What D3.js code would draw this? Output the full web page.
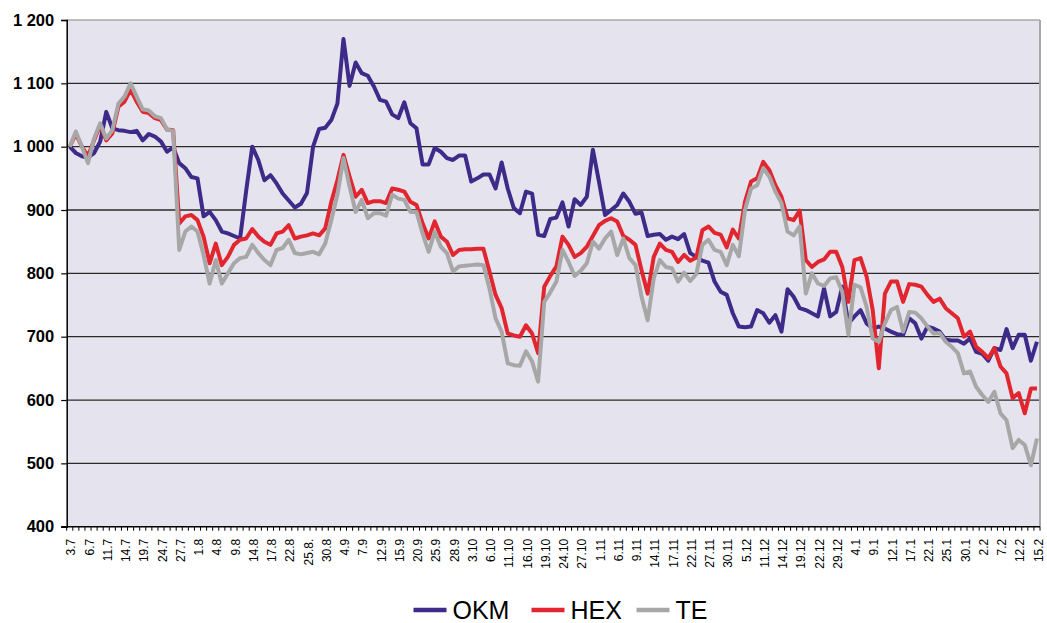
<!DOCTYPE html>
<html><head><meta charset="utf-8">
<script src="https://cdn.jsdelivr.net/npm/d3@7/dist/d3.min.js"></script>
<style>body{margin:0;background:#fff}svg{display:block}</style>
</head><body>
<svg id="c" width="1047" height="623"></svg>
<script>
const dates = [
"3.7","4.7","5.7","6.7","7.7","10.7","11.7","12.7","13.7","14.7","17.7","18.7","19.7","20.7","21.7","24.7","25.7","26.7","27.7","28.7","31.7",
"1.8","2.8","3.8","4.8","7.8","8.8","9.8","10.8","11.8","14.8","15.8","16.8","17.8","18.8","21.8","22.8","23.8","24.8","25.8.","28.8","29.8","30.8","31.8",
"1.9","4.9","5.9","6.9","7.9","8.9","11.9","12.9","13.9","14.9","15.9","18.9","19.9","20.9","21.9","22.9","25.9","26.9","27.9","28.9","29.9",
"2.10","3.10","4.10","5.10","6.10","9.10","10.10","11.10","12.10","13.10","16.10","17.10","18.10","19.10","20.10","23.10","24.10","25.10","26.10","27.10","30.10","31.10",
"1.11","2.11","3.11","6.11","7.11","8.11","9.11","10.11","13.11","14.11","15.11","16.11","17.11","20.11","21.11","22.11","23.11","24.11","27.11","28.11","29.11","30.11",
"1.12","4.12","5.12","7.12","8.12","11.12","12.12","13.12","14.12","15.12","18.12","19.12","20.12","21.12","22.12","27.12","28.12","29.12",
"2.1","3.1","4.1","5.1","8.1","9.1","10.1","11.1","12.1","15.1","16.1","17.1","18.1","19.1","22.1","23.1","24.1","25.1","26.1","29.1","30.1","31.1",
"1.2","2.2","5.2","6.2","7.2","8.2","9.2","12.2","13.2","14.2","15.2"];

const okm = [
1000,990,985,983,990,1008,1055,1029,1026,1025,1023,1025,1010,1020,1016,1008,992,999,974,966,
952,950,890,897,884,866,863,859,855,930,1000,979,947,955,942,926,915,904,910,927,
1000,1028,1030,1042,1068,1170,1096,1133,1116,1112,1095,1074,1071,1051,1045,1070,1037,1029,972,972,
998,992,982,979,986,986,945,950,956,956,934,975,934,903,895,929,926,861,859,886,
888,912,874,917,908,921,995,945,892,900,908,926,913,894,896,859,861,862,853,858,
854,862,832,826,820,817,787,771,766,737,716,715,716,742,737,722,734,708,775,763,
745,742,737,732,776,732,739,779,721,732,742,721,713,716,713,708,704,703,729,721,
697,716,713,708,695,694,694,689,697,676,673,662,682,679,712,682,703,703,662,692];

const hex = [
1000,1020,1000,985,1010,1034,1010,1021,1063,1071,1090,1071,1055,1053,1045,1042,1027,1026,879,890,
892,884,858,816,847,813,826,845,853,855,870,858,850,845,863,866,876,855,858,860,
863,860,871,913,947,987,953,921,932,911,914,914,911,934,932,929,913,908,879,855,
882,858,850,829,837,838,838,839,839,803,766,745,705,702,700,718,705,674,779,796,
811,858,845,826,832,842,859,876,883,887,882,859,853,845,805,768,826,847,837,834,
818,829,820,825,868,874,864,861,841,869,855,913,945,950,976,963,939,921,887,884,
899,821,810,818,822,834,834,810,755,821,824,795,742,650,768,787,787,755,783,782,
779,766,755,760,745,737,729,700,708,684,676,666,682,653,642,603,611,579,618,618];

const te = [
1000,1024,1000,974,1013,1037,1013,1026,1068,1079,1100,1079,1059,1057,1048,1045,1027,1025,837,866,
874,866,829,784,821,784,800,816,824,826,845,832,821,813,837,840,853,832,830,832,
834,830,847,884,924,982,937,897,916,887,895,895,891,924,918,916,897,897,863,834,
866,842,832,803,811,812,813,814,813,776,729,708,658,655,654,677,661,629,755,770,
787,837,818,796,804,816,850,839,855,866,829,855,824,813,763,726,792,821,810,808,
787,801,788,799,845,853,837,834,813,845,827,900,934,939,966,953,929,911,866,860,
874,768,800,784,780,792,794,771,703,782,778,747,697,692,721,742,747,708,739,738,
729,716,705,706,692,684,674,642,645,621,608,597,613,579,568,524,537,529,497,539];

const yTicks = [400,500,600,700,800,900,1000,1100,1200];
const labelStep = 3;
const seriesNames = ["OKM","HEX","TE"];
const seriesValues = [okm, hex, te];
const seriesColors = ["#3e2a88","#e2262f","#a7a7a7"];

const L = 66.7, R = 1040, T = 20, B = 526.7;
const svg = d3.select("#c");
const x = d3.scaleBand().domain(d3.range(dates.length)).range([L, R]).paddingInner(0).paddingOuter(0);
const y = d3.scaleLinear().domain([400, 1200]).range([B, T]);
const cx = i => x(i) + x.bandwidth() / 2;

svg.append("rect").attr("x", L).attr("y", T).attr("width", R - L).attr("height", B - T).attr("fill", "#e5e4ee");

// gridlines
svg.append("g").selectAll("line").data(yTicks.filter(v => v > 400 && v < 1200)).join("line")
  .attr("x1", L).attr("x2", R).attr("y1", d => y(d)).attr("y2", d => y(d))
  .attr("stroke", "#2a2a2a").attr("stroke-width", 1.3);
// top + right border
svg.append("line").attr("x1", L).attr("x2", R).attr("y1", y(1200)).attr("y2", y(1200)).attr("stroke", "#a8a8a8").attr("stroke-width", 1.5);
svg.append("line").attr("x1", R).attr("x2", R).attr("y1", T).attr("y2", B).attr("stroke", "#a8a8a8").attr("stroke-width", 2);

// lines
const line = d3.line().x((d, i) => cx(i)).y(d => y(d)).curve(d3.curveLinear);
seriesValues.forEach((vals, k) => {
  svg.append("path").datum(vals).attr("d", line).attr("fill", "none")
    .attr("stroke", seriesColors[k]).attr("stroke-width", 4).attr("stroke-linejoin", "round");
});

// Y axis
const fmt = d3.formatLocale({decimal: ",", thousands: " ", grouping: [3], currency: ["", ""]}).format(",d");
const yAxis = d3.axisLeft(y).tickValues(yTicks).tickSize(5.5).tickPadding(7).tickFormat(fmt);
const gy = svg.append("g").attr("transform", `translate(${L},0)`).call(yAxis);
gy.select(".domain").attr("stroke", "#000").attr("stroke-width", 1.5);
gy.selectAll(".tick line").attr("stroke", "#000").attr("stroke-width", 1.2);
gy.selectAll(".tick text").attr("font-family", "Liberation Sans, Arial, sans-serif").attr("font-weight", "bold").attr("font-size", "16.5px").attr("fill", "#000");

// X axis: tick marks at category boundaries
const bounds = d3.range(dates.length + 1).map(i => L + i * x.bandwidth());
svg.append("g").selectAll("line").data(bounds).join("line")
  .attr("x1", d => d).attr("x2", d => d).attr("y1", B).attr("y2", B + 4)
  .attr("stroke", "#000").attr("stroke-width", 1);
svg.append("line").attr("x1", L - 5.5).attr("x2", R).attr("y1", B).attr("y2", B).attr("stroke", "#000").attr("stroke-width", 1.5);

// X labels
const labIdx = d3.range(0, dates.length, labelStep);
svg.append("g").selectAll("text").data(labIdx).join("text")
  .attr("transform", i => `translate(${cx(i) + 1.5},${B + 12}) rotate(-90)`)
  .attr("text-anchor", "end").attr("dy", "0.35em")
  .attr("font-family", "Liberation Sans, Arial, sans-serif").attr("font-size", "12px").attr("fill", "#000")
  .text(i => dates[i]);

// Legend
const lg = svg.append("g");
const legX = [413.5, 531.5, 636.5];
seriesNames.forEach((n, k) => {
  lg.append("line").attr("x1", legX[k]).attr("x2", legX[k] + 33).attr("y1", 610).attr("y2", 610)
    .attr("stroke", seriesColors[k]).attr("stroke-width", 4.5);
  lg.append("text").attr("x", legX[k] + 39).attr("y", 619).attr("font-family", "Liberation Sans, Arial, sans-serif")
    .attr("font-size", "25px").attr("fill", "#000").text(n);
});
</script>
</body></html>
